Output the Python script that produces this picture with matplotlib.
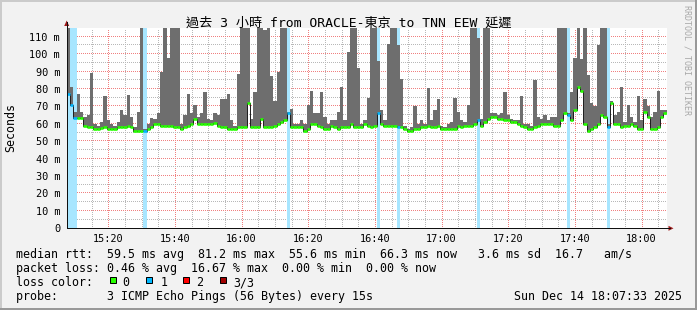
import matplotlib.pyplot as plt
from matplotlib.patches import Polygon, Rectangle
import numpy as np

plt.rcParams['font.family'] = ['DejaVu Sans Mono', 'Noto Sans CJK TC']
plt.rcParams['lines.scale_dashes'] = False

W, H = 697, 310

# last 3 hours, one sample per minute, x in minutes after 15:00 (start 15:07:33)
start_min = 7.55

median_ms = [
    77, 71, 63.5, 63.5, 63.5, 59, 58, 58, 57, 57, 57.5, 58, 57, 57, 57, 58, 58, 58, 59, 58,
    56, 56, 56, 55.6, 57, 58, 60, 60, 59, 59, 59, 59, 58, 58, 57, 58, 59, 60, 63, 60,
    60, 60, 60, 60, 60.5, 59, 58, 58, 57, 57, 57, 58, 58, 58, 72, 58, 58, 58, 63, 58,
    58, 58, 59, 60, 61, 62, 66, 58, 58, 58, 58, 56, 57, 60, 60, 59, 58, 57, 57, 59,
    58, 57, 58, 58, 58, 60, 58, 58, 58, 60, 59, 58, 59, 66, 60, 59, 59, 59, 59, 58,
    58, 57, 56, 56, 57, 57, 58, 58, 59, 58, 58, 59, 57, 57, 57, 57, 57, 59, 58, 59,
    59, 59, 60, 62, 59, 61, 63, 64, 64, 63, 63, 62, 62, 61, 61, 60, 59, 58, 57, 57,
    58, 59, 60, 60, 60, 60, 59, 59, 62, 66, 65, 62, 68, 81, 79, 60, 56, 57, 58, 60,
    65, 64, 58, 72, 60, 60, 58, 59, 59, 60, 59, 57, 57, 67, 64, 57, 57, 58, 64, 66,
]

smoke_top_ms = [
    116, 81, 67, 77, 67, 64, 65, 89, 60, 59, 61, 76, 62, 60, 59, 61, 68, 65, 76.5, 64,
    58, 67, 116, 57, 60, 63.5, 63, 66, 90, 116, 98, 116, 116, 116, 60, 65, 77, 66, 71, 64,
    66, 78, 63, 62, 66, 65, 74, 74, 77, 62, 59, 88.6, 116, 116, 116, 62.5, 78, 116, 116, 114,
    116, 87.5, 73, 90, 116, 116, 67, 68.5, 60, 60, 62, 60, 71, 79, 66, 66, 78, 64, 60, 62,
    62, 67, 81, 62, 101, 116, 116, 92, 60, 62, 75, 116, 116, 96, 68, 62, 106, 116, 116, 105,
    86, 59, 57, 58, 70, 60, 62, 60, 80.6, 62, 68, 74, 59, 58, 60, 61, 75, 67, 62, 61,
    71, 116, 116, 109, 63, 116, 116, 66, 66, 65, 66, 78, 65, 63, 62, 62, 76, 60, 60, 59,
    85, 64, 63, 65, 62, 64, 64, 116, 116, 116, 66, 78, 98, 116, 97, 116, 88, 72, 70, 105,
    116, 116, 60, 73, 65, 67, 81, 61, 71, 64, 61, 76, 62, 74, 70, 64, 67, 79, 68, 68,
]

loss = [
    1, 1, 1, 0, 0, 0, 0, 0, 0, 0, 0, 0, 0, 0, 0, 0, 0, 0, 0, 0,
    0, 0, 0, 1, 0, 0, 0, 0, 0, 0, 0, 0, 0, 0, 0, 0, 0, 0, 0, 0,
    0, 0, 0, 0, 0, 0, 0, 0, 0, 0, 0, 0, 0, 0, 0, 0, 0, 0, 0, 0,
    0, 0, 0, 0, 0, 0, 1, 0, 0, 0, 0, 0, 0, 0, 0, 0, 0, 0, 0, 0,
    0, 0, 0, 0, 0, 0, 0, 0, 0, 0, 0, 0, 0, 1, 0, 0, 0, 0, 0, 1,
    0, 0, 0, 0, 0, 0, 0, 0, 0, 0, 0, 0, 0, 0, 0, 0, 0, 0, 0, 0,
    0, 0, 0, 1, 0, 0, 0, 0, 0, 0, 0, 0, 0, 0, 0, 0, 0, 0, 0, 0,
    0, 0, 0, 0, 0, 0, 0, 0, 0, 0, 1, 0, 0, 0, 0, 0, 0, 0, 0, 0,
    0, 0, 1, 0, 0, 0, 0, 0, 0, 0, 0, 0, 0, 0, 0, 0, 0, 0, 0, 0,
]

loss_colors = ['#26ff00', '#00b8ff', '#ff0000', '#a00000']
loss_bg = ['#ffffff', '#a8e6ff', '#ffb4b4', '#e0a0a0']
loss_names = ['0', '1', '2', '3/3']

xtick_min = [20, 40, 60, 80, 100, 120, 140, 160, 180]
xtick_labels = ['15:20', '15:40', '16:00', '16:20', '16:40', '17:00', '17:20', '17:40', '18:00']
ytick_ms = [0, 10, 20, 30, 40, 50, 60, 70, 80, 90, 100, 110]
ytick_labels = ['0', '10 m', '20 m', '30 m', '40 m', '50 m', '60 m', '70 m', '80 m', '90 m', '100 m', '110 m']

title = '過去 3 小時 from ORACLE-東京 to TNN EEW 延遲'
line_rtt = 'median rtt:  59.5 ms avg  81.2 ms max  55.6 ms min  66.3 ms now   3.6 ms sd  16.7   am/s'
line_loss = 'packet loss: 0.46 % avg  16.67 % max  0.00 % min  0.00 % now'
line_probe = 'probe:       3 ICMP Echo Pings (56 Bytes) every 15s'
stamp = 'Sun Dec 14 18:07:33 2025'


def fx(px):
    return px / W


def fy(py):
    return 1 - py / H


fig = plt.figure(figsize=(W / 100, H / 100), dpi=100, facecolor='#f2f2f2')
ax = fig.add_axes([fx(66.7), fy(228.3), 600 / W, 200.3 / H])
ax.set_facecolor('white')

t = start_min + np.arange(len(median_ms))
med = np.array(median_ms)
top = np.array(smoke_top_ms)

# dotted grid: vertical as dashed lines, horizontal as single pixels every 2 px
for m in np.arange(10, 188, 5):
    col = '#f08080' if m % 20 == 0 else '#b8b8b8'
    ax.axvline(m, color=col, lw=1.0, ls=(0, (0.72, 1.44)), antialiased=False, snap=True, zorder=0.5)
dot_x = np.arange(start_min, start_min + 180, 0.6)   # 2 px steps
for v in np.arange(5, 115, 5):
    col = '#f08080' if v % 10 == 0 else '#b8b8b8'
    ax.plot(dot_x, np.full(len(dot_x), v), ',', color=col, zorder=0.5)

# loss background bars
for i, l in enumerate(loss):
    if l > 0:
        ax.axvspan(t[i], t[i] + 1, color=loss_bg[l], lw=0, zorder=1)

# smoke
ax.bar(t, top - med, bottom=med, width=1, align='edge', color='#6e6e6e', lw=0, zorder=2)

# median line, coloured by loss
ax.step(np.append(t, t[-1] + 1), np.append(med, med[-1]), where='post',
        color='#202020', lw=0.72, zorder=4)
ax.hlines(med, t, t + 1, colors=[loss_colors[l] for l in loss], lw=1.9,
          capstyle='butt', zorder=5)

ax.set_xlim(start_min, start_min + 180)
ax.set_ylim(0, 115)
ax.set_xticks(xtick_min)
ax.set_xticklabels(xtick_labels)
ax.set_yticks(ytick_ms)
ax.set_yticklabels(ytick_labels)
ax.tick_params(axis='x', length=0, pad=4.1, labelsize=7.35)
ax.tick_params(axis='y', length=0, pad=4.8, labelsize=7.35)
for s in ['top', 'right']:
    ax.spines[s].set_visible(False)
for s in ['left', 'bottom']:
    ax.spines[s].set_color('#101010')
    ax.spines[s].set_linewidth(0.72)
    ax.spines[s].set_zorder(6)

# axis arrows
arrow_col = '#a01818'
fig.add_artist(plt.Line2D([fx(66.7), fx(66.7)], [fy(28), fy(22)], color='#101010', lw=0.72))
fig.add_artist(Polygon([(fx(64.2), fy(26)), (fx(69.2), fy(26)), (fx(66.7), fy(20.5))],
                       closed=True, color=arrow_col, lw=0))
fig.add_artist(plt.Line2D([fx(666.7), fx(670)], [fy(228.3), fy(228.3)], color='#101010', lw=0.72))
fig.add_artist(Polygon([(fx(668.5), fy(225.8)), (fx(668.5), fy(230.8)), (fx(673.5), fy(228.3))],
                       closed=True, color=arrow_col, lw=0))

# frame shading
fig.add_artist(Rectangle((0, fy(2)), 1, 2 / H, color='#cbcbcb', lw=0))
fig.add_artist(Rectangle((0, 0), 2 / W, 1, color='#cbcbcb', lw=0))
fig.add_artist(Rectangle((0, 0), 1, 2 / H, color='#999999', lw=0))
fig.add_artist(Rectangle((fx(695), 0), 2 / W, 1, color='#999999', lw=0))

# texts
fig.text(fx(348.5), fy(26.3), title, ha='center', va='baseline', fontsize=9.45)
fig.text(fx(10.5), fy(127.5), 'Seconds', rotation=90, ha='center', va='center', fontsize=8.4)
fig.text(fx(687.5), fy(5), 'RRDTOOL / TOBI OETIKER', rotation=270, ha='center', va='top',
         fontsize=6, color='#a8a8a8')

fs = 8.4
fig.text(fx(16), fy(258.2), line_rtt, ha='left', va='baseline', fontsize=fs)
fig.text(fx(16), fy(272.4), line_loss, ha='left', va='baseline', fontsize=fs)
fig.text(fx(16), fy(286.5), 'loss color:', ha='left', va='baseline', fontsize=fs)
fig.text(fx(16), fy(300.4), line_probe, ha='left', va='baseline', fontsize=fs)
fig.text(fx(681.5), fy(300.4), stamp, ha='right', va='baseline', fontsize=fs)

box_x = [109.2, 145.7, 182.7, 219.3]
name_x = [122.4, 160.3, 195.8, 233.1]
for k in range(4):
    fig.add_artist(Rectangle((fx(box_x[k] + 0.5), fy(283.3 - 0.5)), 6 / W, 6 / H,
                             facecolor=loss_colors[k], edgecolor='black', lw=0.72))
    fig.text(fx(name_x[k]), fy(286.5), loss_names[k], ha='left', va='baseline', fontsize=fs)

fig.savefig('out.png', dpi=100, facecolor=fig.get_facecolor())
